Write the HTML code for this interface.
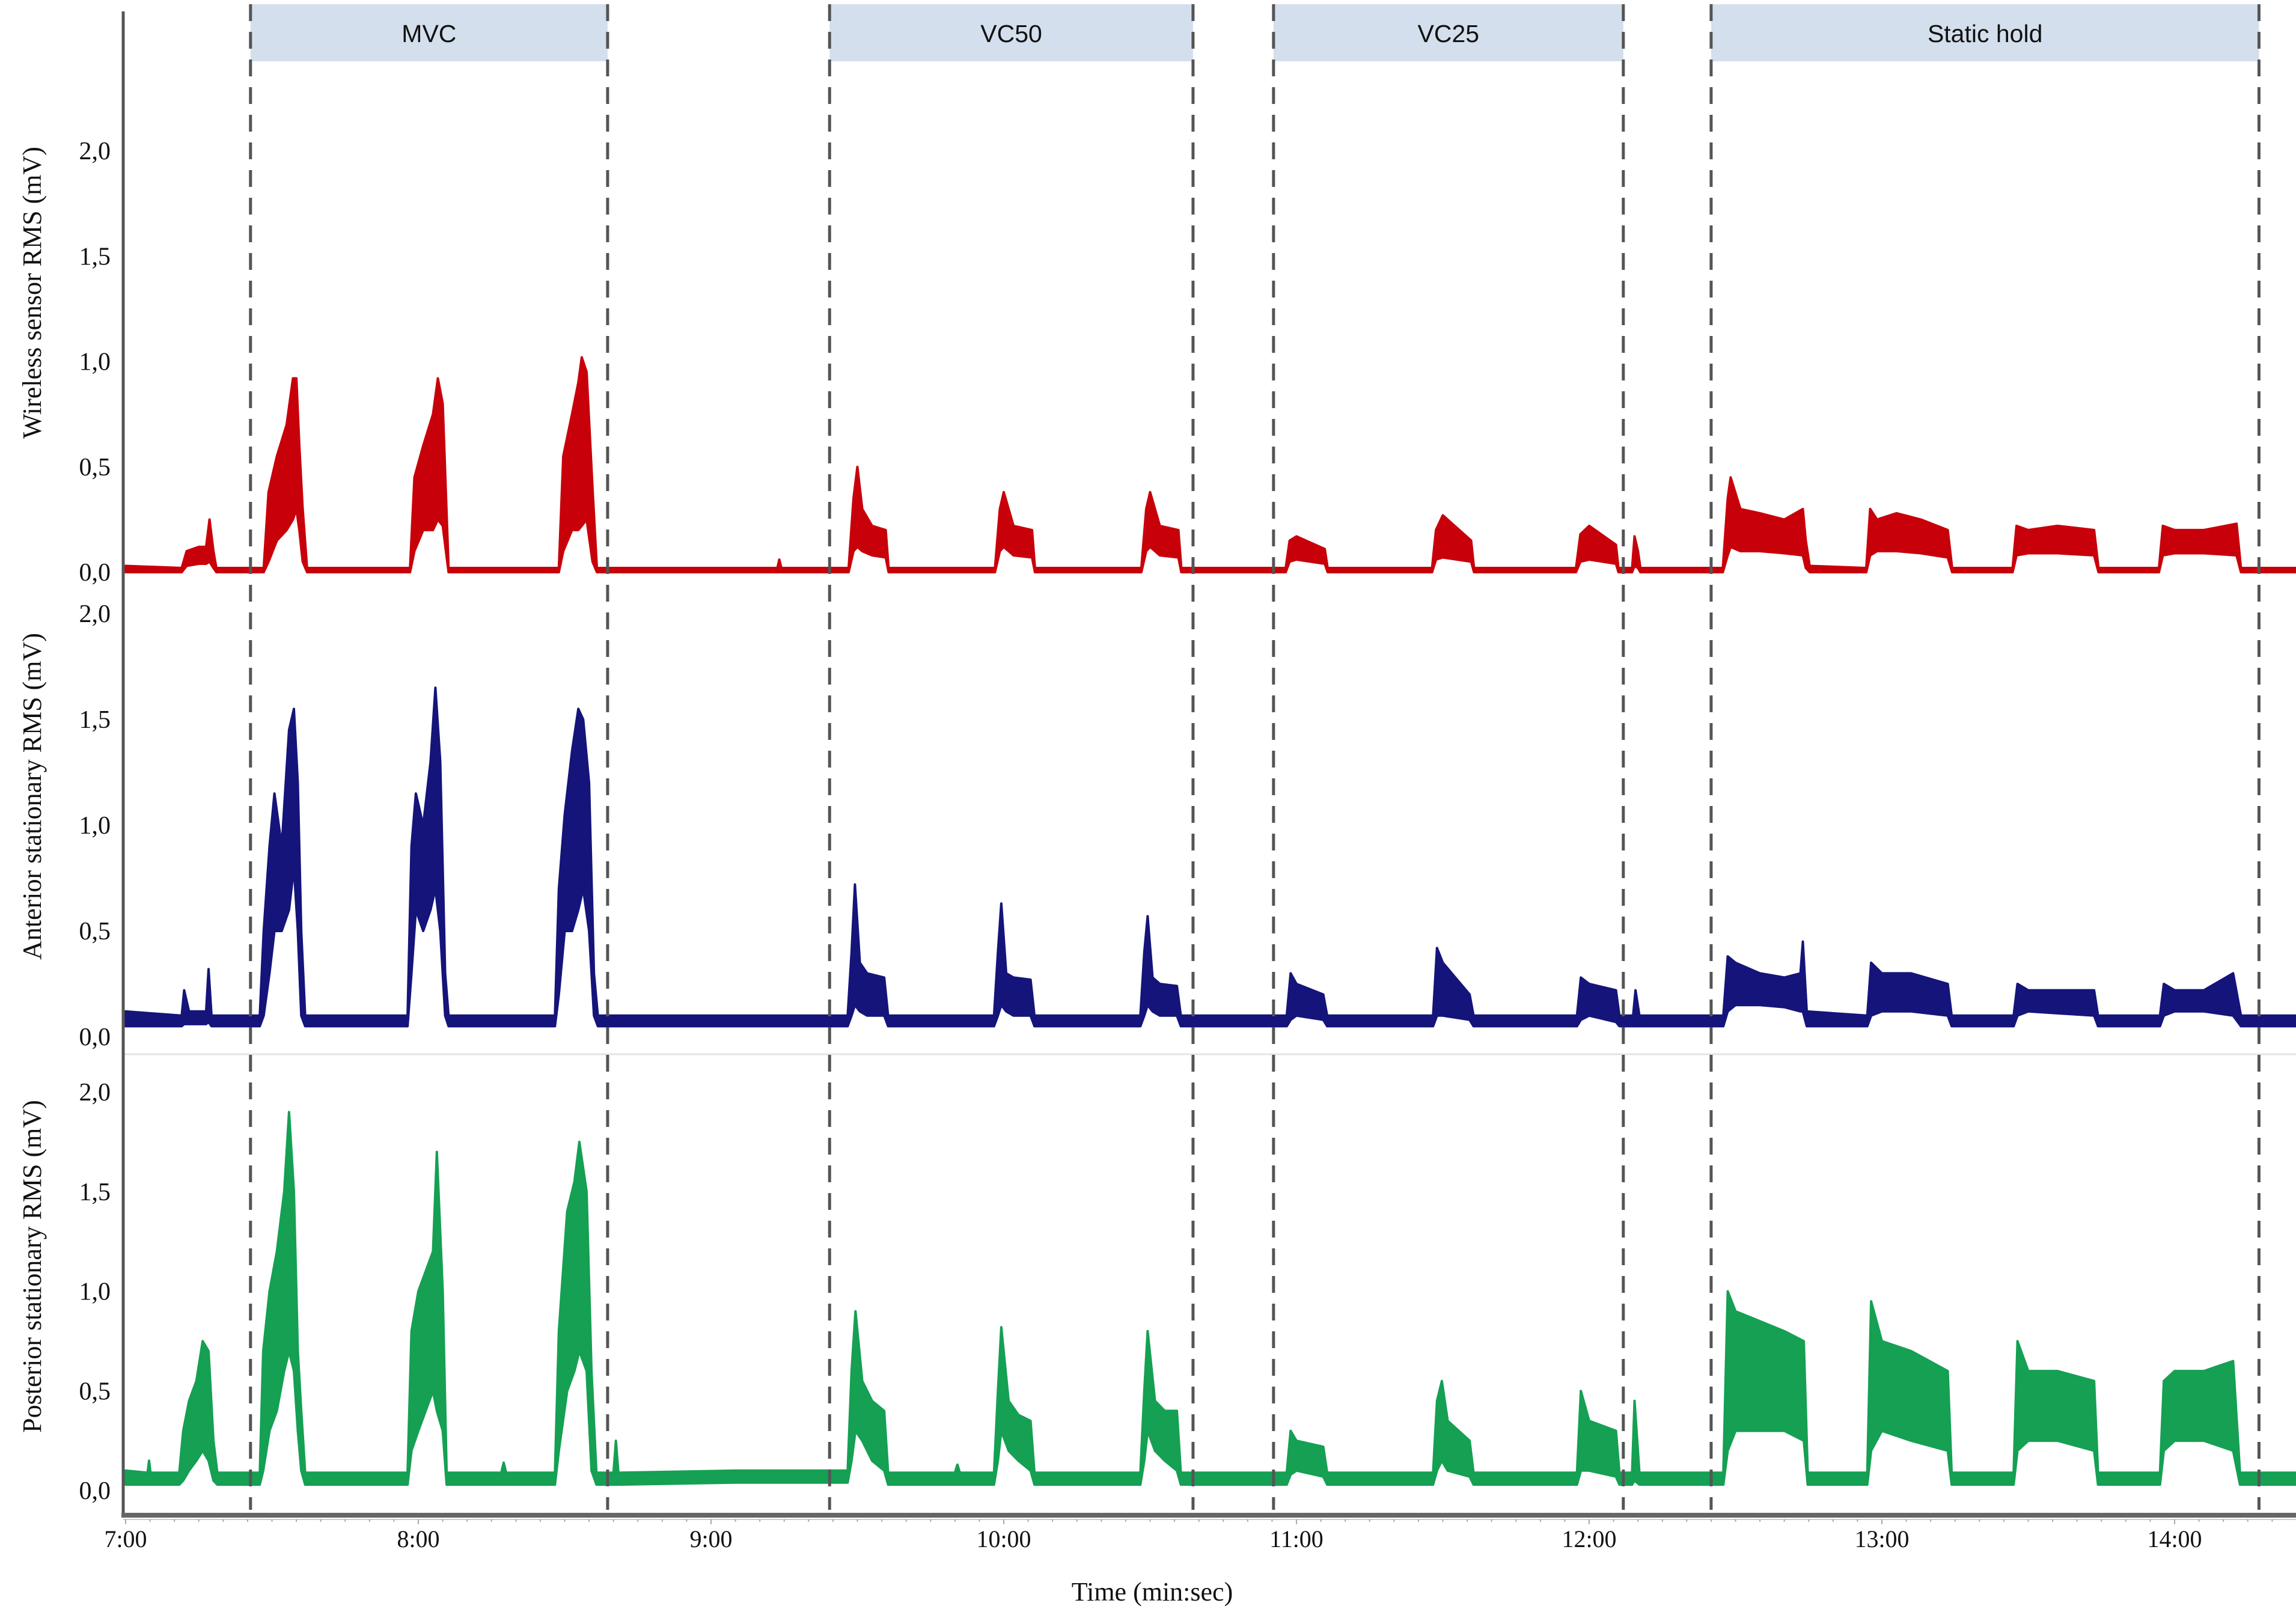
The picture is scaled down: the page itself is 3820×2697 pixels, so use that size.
<!DOCTYPE html>
<html><head><meta charset="utf-8"><style>
html,body{margin:0;padding:0;background:#fff}
svg{display:block}
</style></head><body>
<svg id="chart" xmlns="http://www.w3.org/2000/svg" width="3820" height="2697" viewBox="0 0 3820 2697">
<rect width="3820" height="2697" fill="#fff"/>
<g id="headers"></g>
<g id="panels"></g>
<g id="dashes"></g>
<g id="axes"></g>
</svg>
<script>
const NS="http://www.w3.org/2000/svg";
// phase boundaries (seconds after 7:00)
const phaseBounds=[25.6,98.8,144.3,218.8,235.3,307.0,325.0,437.3];
const phaseNames=["MVC","VC50","VC25","Static hold"];
const xTickLabels=["7:00","8:00","9:00","10:00","11:00","12:00","13:00","14:00"];
const yTickLabels=["0,0","0,5","1,0","1,5","2,0"];
const yTickValues=[0,0.5,1,1.5,2];

// Wireless sensor (red)
const redT=[0,11.5,12.5,15,16.5,17.2,18,18.6,28.3,29.3,31,33,34.3,35,35.6,36.3,37.2,58.3,59.2,61,63,64,65,66.2,88.8,89.7,91.5,92.8,93.5,94.5,95.7,96.6,133.6,134,134.4,148.2,149.2,150,151,153,155.8,156.4,178.2,179.2,180,182,185.8,186.4,208.2,209.2,210,212,215.8,216.4,237.8,238.6,240,245.8,246.4,267.8,268.6,270,275.8,276.4,297.3,298.2,300,305.5,306,308.8,309.3,310,310.5,327.4,328.4,329,331,335,340,343.8,344.4,345.2,356.8,357.6,359,363,368,373.5,374.4,386.8,387.6,390,396,403.5,404.4,416.8,417.6,420,426,432.7,433.6,450];
const redHi=[.03,.02,.1,.12,.12,.25,.1,.02,.02,.38,.55,.7,.92,.92,.6,.3,.02,.02,.45,.6,.75,.92,.8,.02,.02,.55,.75,.9,1.02,.95,.4,.02,.02,.06,.02,.02,.35,.5,.3,.22,.2,.02,.02,.3,.38,.22,.2,.02,.02,.3,.38,.22,.2,.02,.02,.15,.17,.11,.02,.02,.2,.27,.15,.02,.02,.18,.22,.13,.02,.02,.17,.1,.02,.02,.35,.45,.3,.28,.25,.3,.15,.03,.02,.3,.25,.28,.25,.2,.02,.02,.22,.2,.22,.2,.02,.02,.22,.2,.2,.23,.02,.02];
const redLo=[0,0,.03,.04,.04,.05,.02,0,0,.05,.15,.2,.25,.3,.2,.05,0,0,.1,.2,.2,.25,.22,0,0,.1,.2,.2,.22,.25,.05,0,0,0,0,0,.1,.12,.1,.08,.07,0,0,.1,.12,.08,.07,0,0,.1,.12,.08,.07,0,0,.05,.06,.04,0,0,.06,.07,.05,0,0,.05,.06,.04,0,0,.03,.02,0,0,.08,.12,.1,.1,.09,.08,.02,0,0,.08,.1,.1,.09,.07,0,0,.08,.09,.09,.08,0,0,.08,.09,.09,.08,0,0];

// Anterior stationary (blue)
const blueT=[0,11.5,12,13,16.5,17,17.6,27.5,28.3,29.5,30.5,32,33.5,34.5,35.3,36,36.8,57.8,58.6,59.5,61,62.5,63.5,64.5,65.5,66.2,88,88.8,90,91.5,92.8,93.8,95,96,96.8,148,148.8,149.5,150.5,152,155.5,156.3,178,178.8,179.5,180.5,182,185.5,186.3,208,208.8,209.5,210.5,212,215.5,216.3,238,238.8,240,245.5,246.3,268,268.8,270,275.5,276.3,297.5,298.3,300,305.5,306.2,309,309.5,310.3,327.5,328.4,330,335,340,343.3,343.8,344.6,357,357.8,360,366,373.5,374.3,387,387.8,390,403.5,404.3,417,417.8,420,426,432,433.6,450];
const blueHi=[.12,.1,.22,.12,.12,.32,.1,.1,.5,.9,1.15,.9,1.45,1.55,1.2,.5,.1,.1,.9,1.15,1.0,1.3,1.65,1.3,.3,.1,.1,.7,1.05,1.35,1.55,1.5,1.2,.3,.1,.1,.4,.72,.35,.3,.28,.1,.1,.4,.63,.3,.28,.27,.1,.1,.4,.57,.28,.25,.24,.1,.1,.3,.25,.2,.1,.1,.42,.35,.2,.1,.1,.28,.25,.22,.1,.1,.22,.1,.1,.38,.35,.3,.28,.3,.45,.12,.1,.35,.3,.3,.25,.1,.1,.25,.22,.22,.1,.1,.25,.22,.22,.3,.1,.1];
const blueLo=[.05,.05,.06,.06,.06,.07,.05,.05,.1,.3,.5,.5,.6,.8,.5,.1,.05,.05,.3,.6,.5,.6,.7,.5,.1,.05,.05,.2,.5,.5,.6,.7,.5,.1,.05,.05,.1,.15,.12,.1,.1,.05,.05,.1,.15,.12,.1,.1,.05,.05,.1,.15,.12,.1,.1,.05,.05,.08,.1,.08,.05,.05,.1,.1,.08,.05,.05,.08,.1,.07,.05,.05,.05,.05,.05,.12,.15,.15,.14,.12,.12,.05,.05,.1,.12,.12,.1,.05,.05,.1,.12,.1,.05,.05,.1,.12,.12,.1,.05,.05];

// Posterior stationary (green)
const greenT=[0,4.5,4.8,5.1,11,11.8,13,14.5,15.8,17,18,18.8,27.5,28.2,29.5,31,32.5,33.5,34.5,35.3,36,36.8,57.8,58.6,60,61.5,63,63.8,65,65.8,77,77.5,78,88,88.8,90.5,92,93,94.5,95.5,96.5,100,100.5,101,125,148,148.8,149.6,151,153,155.5,156.3,170,170.5,171,178,178.8,179.5,181,183,185.5,186.3,208,208.8,209.5,211,213,215.5,216.3,238,238.8,240,245.5,246.3,268,268.8,269.8,271,275.5,276.3,297.5,298.3,300,305.5,306.2,308.8,309.3,310.3,327.5,328.4,330,335,340,344,344.8,357,357.8,360,366,373.5,374.3,387,387.8,390,396,403.5,404.3,417,417.8,420,426,432,433.4,450];
const greenHi=[.1,.09,.15,.09,.09,.3,.45,.55,.75,.7,.25,.09,.09,.7,1.0,1.2,1.5,1.9,1.5,.7,.4,.09,.09,.8,1.0,1.1,1.2,1.7,1.0,.09,.09,.14,.09,.09,.8,1.4,1.55,1.75,1.5,.6,.09,.09,.25,.09,.1,.1,.6,.9,.55,.45,.4,.09,.09,.13,.09,.09,.5,.82,.45,.38,.35,.09,.09,.5,.8,.45,.4,.4,.09,.09,.3,.25,.22,.09,.09,.45,.55,.35,.25,.09,.09,.5,.35,.3,.09,.09,.45,.09,.09,1.0,.9,.85,.8,.75,.09,.09,.95,.75,.7,.6,.09,.09,.75,.6,.6,.55,.09,.09,.55,.6,.6,.65,.09,.09];
const greenLo=[.03,.03,.03,.03,.03,.05,.1,.15,.2,.15,.05,.03,.03,.1,.3,.4,.6,.7,.6,.3,.1,.03,.03,.2,.3,.4,.5,.4,.3,.03,.03,.03,.03,.03,.2,.5,.6,.7,.6,.1,.03,.03,.03,.03,.04,.04,.15,.3,.25,.15,.1,.03,.03,.03,.03,.03,.15,.3,.2,.15,.1,.03,.03,.15,.3,.2,.15,.1,.03,.03,.08,.1,.07,.03,.03,.1,.15,.1,.07,.03,.03,.1,.1,.07,.03,.03,.05,.03,.03,.2,.3,.3,.3,.25,.03,.03,.2,.3,.25,.2,.03,.03,.2,.25,.25,.2,.03,.03,.2,.25,.25,.2,.03,.03];

const x0=209, pxPerSec=487/60;
function xScale(t){return x0+t*pxPerSec;}
function mk(tag,attrs,parent){const e=document.createElementNS(NS,tag);for(const k in attrs)e.setAttribute(k,attrs[k]);parent.appendChild(e);return e;}

const panels=[
 {name:"wireless",title:"Wireless sensor RMS (mV)",T:redT,H:redHi,L:redLo,color:"#c8000a",y0:952,k:350.5,ty:487},
 {name:"anterior",title:"Anterior stationary RMS (mV)",T:blueT,H:blueHi,L:blueLo,color:"#14147a",y0:1725,k:352,ty:1325},
 {name:"posterior",title:"Posterior stationary RMS (mV)",T:greenT,H:greenHi,L:greenLo,color:"#15a053",y0:2480,k:331.5,ty:2107}
];

const gH=document.getElementById('headers');
for(let i=0;i<phaseNames.length;i++){
 const a=xScale(phaseBounds[2*i]),b=xScale(phaseBounds[2*i+1]);
 const r=mk('rect',{x:a,y:7,width:b-a,height:95,fill:'#d4dfed'},gH);
 
 
 const t=mk('text',{x:(a+b)/2,y:70,'text-anchor':'middle','font-family':'Liberation Sans, sans-serif','font-size':41,fill:'#111'},gH);
 t.textContent=phaseNames[i];
 
 
}

const gP=document.getElementById('panels');
const sep1=mk('line',{x1:205,x2:3820,y1:1754,y2:1754,stroke:'#e4e4e4','stroke-width':3},gP);


panels.forEach(p=>{
 const g=mk('g',{},gP);
 
 
 const y=v=>p.y0-v*p.k;
 let pts=[];
 for(let i=0;i<p.T.length;i++)pts.push(xScale(p.T[i]).toFixed(1)+','+y(p.H[i]).toFixed(1));
 for(let i=p.T.length-1;i>=0;i--)pts.push(xScale(p.T[i]).toFixed(1)+','+y(p.L[i]).toFixed(1));
 const poly=mk('polygon',{points:pts.join(' '),fill:p.color,stroke:p.color,'stroke-width':4,'stroke-linejoin':'round'},g);
 
 
 yTickValues.forEach((v,i)=>{
  const t=mk('text',{x:184,y:y(v)+14,'text-anchor':'end','font-family':'Liberation Serif, serif','font-size':42,fill:'#111'},g);
  t.textContent=yTickLabels[i];
  
  
 });
 const tt=mk('text',{x:0,y:0,transform:'translate(68,'+p.ty+') rotate(-90)','text-anchor':'middle','font-family':'Liberation Serif, serif','font-size':44,fill:'#111'},g);
 tt.textContent=p.title;
 
 
});

const gD=document.getElementById('dashes');
phaseBounds.forEach(b=>{
 const l=mk('line',{x1:xScale(b),x2:xScale(b),y1:7,y2:2512,stroke:'#555','stroke-width':5,'stroke-dasharray':'28 18'},gD);
 
 
});

const gA=document.getElementById('axes');
const ya=mk('line',{x1:205,x2:205,y1:19,y2:2524,stroke:'#555','stroke-width':5},gA);


const xa=mk('line',{x1:202,x2:3820,y1:2521,y2:2521,stroke:'#666','stroke-width':8},gA);


const xa2=mk('line',{x1:205,x2:3820,y1:2528,y2:2528,stroke:'#ccc','stroke-width':2},gA);


for(let s=0;s<=445;s+=5){
 const tk=mk('line',{x1:xScale(s),x2:xScale(s),y1:2528,y2:(s%60===0?2536:2532),stroke:'#aaa','stroke-width':2},gA);
 
 
}
xTickLabels.forEach((lab,i)=>{
 const t=mk('text',{x:xScale(i*60),y:2574,'text-anchor':'middle','font-family':'Liberation Serif, serif','font-size':40,fill:'#111'},gA);
 t.textContent=lab;
 
 
});
const xt=mk('text',{x:1917,y:2663,'text-anchor':'middle','font-family':'Liberation Serif, serif','font-size':44,fill:'#111'},gA);
xt.textContent='Time (min:sec)';


</script>
</body></html>
